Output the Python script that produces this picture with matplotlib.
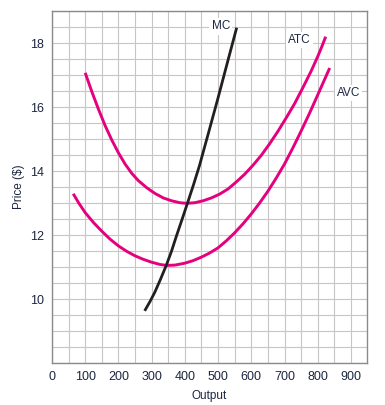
import matplotlib
matplotlib.use("Agg")
import matplotlib.pyplot as plt
from matplotlib.ticker import MultipleLocator

plt.rcParams['font.family'] = ['Liberation Sans', 'DejaVu Sans']

# values
atc_x = [100, 120, 140, 160, 180, 200, 220, 240, 260, 285, 310, 335, 360, 385, 405,
         430, 455, 480, 505, 530, 555, 580, 605, 630, 655, 680, 705, 730, 755, 780, 800, 812, 824]
atc_y = [17.07, 16.48, 15.93, 15.42, 14.97, 14.57, 14.22, 13.93, 13.7, 13.48, 13.3, 13.16, 13.07, 13.01, 12.99,
         13.01, 13.07, 13.16, 13.28, 13.44, 13.66, 13.9, 14.18, 14.49, 14.85, 15.24, 15.66, 16.1, 16.6, 17.12, 17.58, 17.88, 18.2]

avc_x = [64, 80, 100, 125, 150, 175, 200, 225, 250, 275, 300, 325, 345, 370, 400, 425, 450,
         475, 500, 525, 550, 575, 600, 625, 650, 675, 700, 725, 750, 775, 800, 818, 836]
avc_y = [13.29, 13.01, 12.7, 12.39, 12.12, 11.87, 11.66, 11.49, 11.35, 11.24, 11.15, 11.08, 11.05, 11.06, 11.12, 11.2, 11.31,
         11.44, 11.6, 11.82, 12.07, 12.35, 12.66, 13.0, 13.37, 13.78, 14.22, 14.72, 15.25, 15.8, 16.38, 16.8, 17.22]

mc_x = [279, 295, 309, 326, 344, 360, 374, 391, 408, 426, 444, 470, 499, 527, 556]
mc_y = [9.63, 9.92, 10.2, 10.6, 11.05, 11.5, 11.95, 12.47, 13.0, 13.57, 14.17, 15.15, 16.25, 17.35, 18.48]

curve_labels = ["MC", "ATC", "AVC"]
label_x = [508, 745, 893]
label_y = [18.52, 18.1, 16.45]

x_ticks = [0, 100, 200, 300, 400, 500, 600, 700, 800, 900]
y_ticks = [10, 12, 14, 16, 18]

pink = '#e5007d'
navy = '#1c2640'

fig = plt.figure(figsize=(3.85, 4.05), dpi=100)
ax = fig.add_axes([0.135, 0.1037, 0.818, 0.869])

ax.plot(atc_x, atc_y, color=pink, lw=2.1, solid_capstyle='butt', solid_joinstyle='round', zorder=3)
ax.plot(avc_x, avc_y, color=pink, lw=2.1, solid_capstyle='butt', solid_joinstyle='round', zorder=3)
ax.plot(mc_x, mc_y, color='#231f20', lw=2.0, solid_capstyle='butt', solid_joinstyle='round', zorder=4)

for t, lx, ly in zip(curve_labels, label_x, label_y):
    ax.text(lx, ly, t, fontsize=8.5, color=navy, ha='center', va='center', zorder=5,
            bbox=dict(facecolor='white', edgecolor='none', pad=1.5))

ax.set_xlim(0, 948)
ax.set_ylim(8, 19)
ax.set_xticks(x_ticks)
ax.set_yticks(y_ticks)
ax.xaxis.set_minor_locator(MultipleLocator(50))
ax.yaxis.set_minor_locator(MultipleLocator(0.5))
ax.grid(which='both', color='#c6c6c6', lw=0.8)
ax.set_axisbelow(True)
ax.tick_params(which='both', length=0, labelsize=9, colors=navy)
ax.tick_params(axis='y', pad=6)
ax.tick_params(axis='x', pad=6)
for s in ax.spines.values():
    s.set_color('#8a8a8a')
    s.set_linewidth(1.0)

ax.set_xlabel("Output", fontsize=8.5, labelpad=5, color=navy)
ax.set_ylabel("Price ($)", fontsize=8.5, labelpad=3, color=navy)

fig.savefig("out.png", dpi=100)
